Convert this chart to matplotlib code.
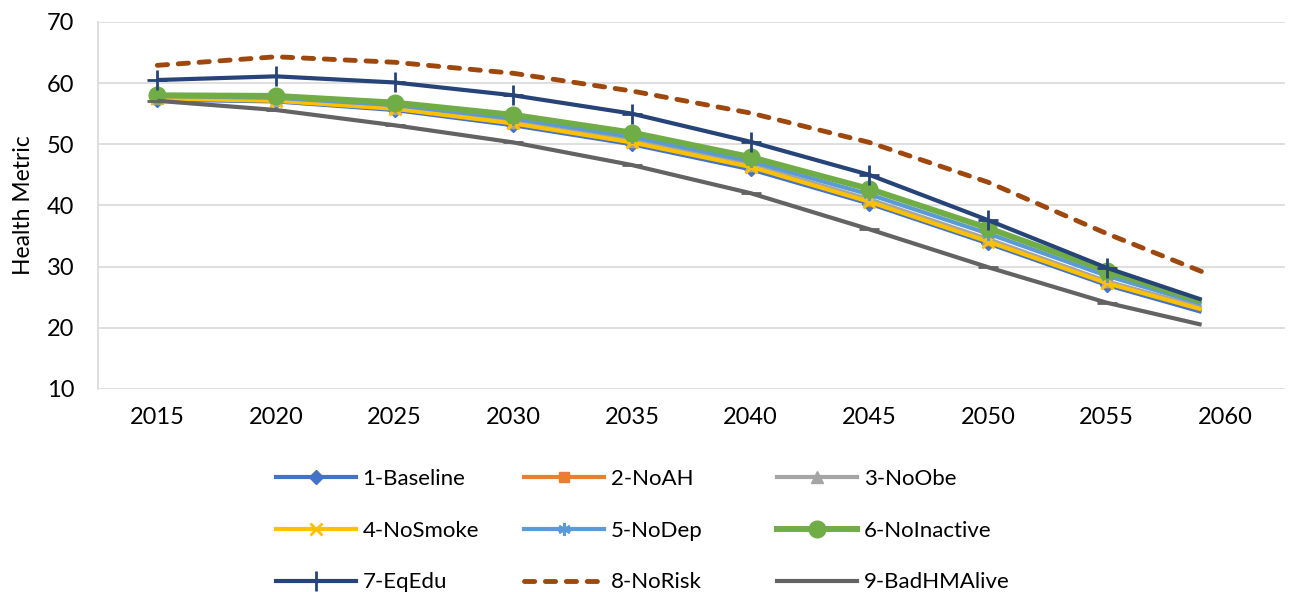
import numpy as np
import matplotlib.pyplot as plt
from matplotlib.lines import Line2D

plt.rcParams['font.family'] = ['Lato', 'DejaVu Sans']

# Scenario projections, 5-year steps with the final projection year
years = [2015, 2020, 2025, 2030, 2035, 2040, 2045, 2050, 2055, 2059]
baseline = [57.3, 57.0, 55.6, 53.1, 50.0, 45.9, 40.3, 33.8, 27.0, 22.6]
no_ah = [57.6, 57.2, 55.9, 53.5, 50.4, 46.4, 40.8, 34.3, 27.5, 23.2]
no_obe = [57.6, 57.3, 56.0, 53.6, 50.6, 46.6, 41.0, 34.5, 27.6, 23.3]
no_smoke = [57.5, 57.1, 55.8, 53.4, 50.3, 46.3, 40.6, 34.1, 27.3, 23.0]
no_dep = [57.9, 57.6, 56.4, 54.2, 51.2, 47.2, 41.8, 35.4, 28.5, 23.9]
no_inactive = [58.0, 57.9, 56.8, 54.8, 51.9, 47.9, 42.7, 36.3, 29.3, 24.3]
eq_edu = [60.5, 61.1, 60.1, 58.0, 55.0, 50.4, 45.0, 37.6, 29.8, 24.6]
no_risk = [62.9, 64.3, 63.4, 61.6, 58.7, 55.1, 50.3, 43.8, 35.4, 29.2]
bad_hm_alive = [57.1, 55.6, 53.1, 50.3, 46.6, 42.0, 36.1, 29.9, 24.1, 20.5]

tick_years = [2015, 2020, 2025, 2030, 2035, 2040, 2045, 2050, 2055, 2060]

series = [
    ("1-Baseline", baseline, "#4472C4", "D", 7, 3.0, "-"),
    ("2-NoAH", no_ah, "#ED7D31", "s", 7, 3.0, "-"),
    ("3-NoObe", no_obe, "#A5A5A5", "^", 8, 3.0, "-"),
    ("4-NoSmoke", no_smoke, "#FFC000", "x", 9, 3.0, "-"),
    ("5-NoDep", no_dep, "#5B9BD5", (6, 2, 0), 9, 3.0, "-"),
    ("6-NoInactive", no_inactive, "#70AD47", "o", 12, 4.3, "-"),
    ("7-EqEdu", eq_edu, "#264478", "+", 14, 3.0, "-"),
    ("8-NoRisk", no_risk, "#9E480E", None, 0, 3.5, (0, (2.1, 2.2))),
    ("9-BadHMAlive", bad_hm_alive, "#636363", "_", 14, 3.0, "-"),
]

fig = plt.figure(figsize=(12.95, 5.92), dpi=100)
ax = fig.add_axes([0.0757, 0.343, 0.9163, 0.620])

handles = []
for label, vals, color, marker, ms, lw, ls in series:
    mew = 2 if marker in ("x", "+", "_", (6, 2, 0)) else 1
    ax.plot(years, vals, color=color, lw=lw, ls=ls, marker=marker, ms=ms,
            mew=mew, markevery=list(range(len(years) - 1)),
            solid_capstyle="butt", dash_capstyle="round")
    handles.append(Line2D([], [], color=color, lw=lw, ls=ls, marker=marker,
                          ms=ms, mew=mew, label=label, dash_capstyle="round"))

ax.set_xlim(2012.5, 2062.5)
ax.set_ylim(10, 70)
ax.set_xticks(tick_years)
ax.set_xticklabels([str(y) for y in tick_years])
ax.set_yticks(range(10, 71, 10))
ax.tick_params(axis="both", length=0, labelsize=17, colors="black")
ax.tick_params(axis="x", pad=13)
ax.tick_params(axis="y", pad=17)
ax.grid(axis="y", color="#D9D9D9", lw=1.2)
ax.set_axisbelow(True)
for side in ("top", "right", "bottom"):
    ax.spines[side].set_visible(False)
ax.spines["left"].set_color("#D9D9D9")
ax.spines["left"].set_linewidth(1.2)
ax.set_ylabel("Health Metric", fontsize=16.5, labelpad=9)

# three legend columns, row-major order across them
col_x = [0.213, 0.405, 0.600]
for c in range(3):
    fig.legend(handles=handles[c::3], loc="upper left",
               bbox_to_anchor=(col_x[c], 0.208), frameon=False,
               fontsize=16, handlelength=3.6, handletextpad=0.3,
               labelspacing=1.43, borderpad=0, borderaxespad=0)

fig.savefig("out.png", dpi=100)
